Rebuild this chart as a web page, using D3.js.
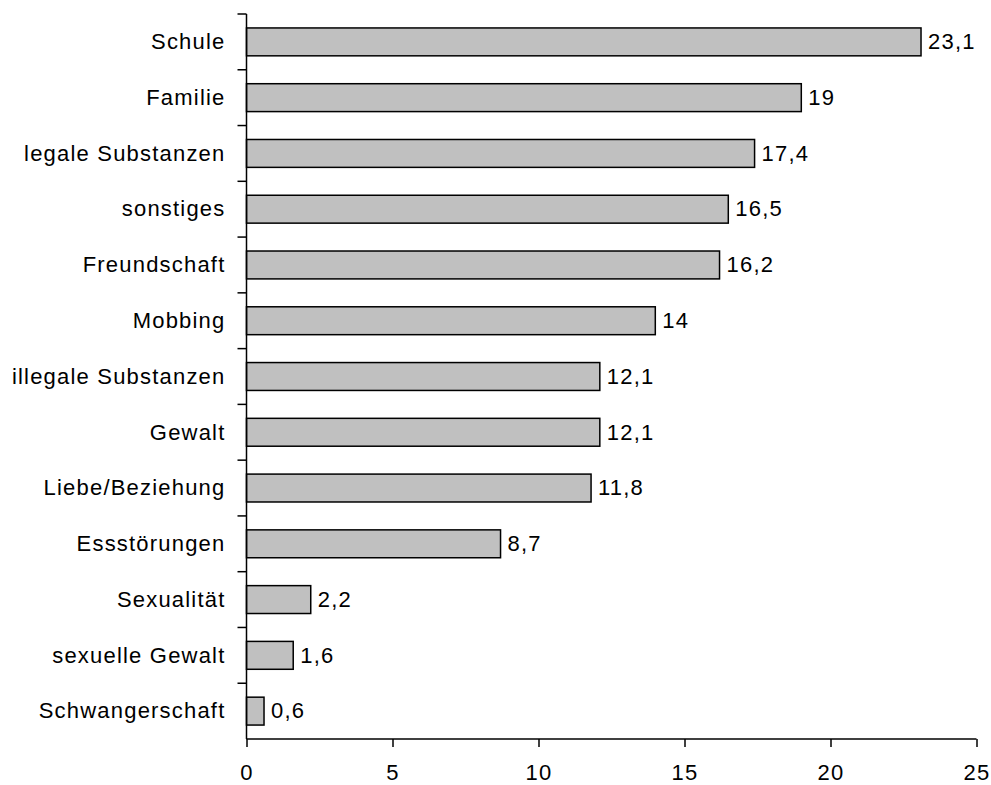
<!DOCTYPE html>
<html>
<head>
<meta charset="utf-8">
<script src="https://cdn.jsdelivr.net/npm/d3@7"></script>
<style>
  html, body { margin: 0; padding: 0; background: #fff; }
  svg { display: block; }
  text { font-family: "Liberation Sans", Arial, sans-serif; fill: #000; letter-spacing: 1.2px; }
</style>
</head>
<body>
<svg id="chart" width="991" height="785"></svg>
<script>
const categories = [
  "Schule", "Familie", "legale Substanzen", "sonstiges", "Freundschaft",
  "Mobbing", "illegale Substanzen", "Gewalt", "Liebe/Beziehung",
  "Essstörungen", "Sexualität", "sexuelle Gewalt", "Schwangerschaft"
];
const values = [23.1, 19, 17.4, 16.5, 16.2, 14, 12.1, 12.1, 11.8, 8.7, 2.2, 1.6, 0.6];
const xTicks = [0, 5, 10, 15, 20, 25];

const svg = d3.select("#chart");
const plotLeft = 246.5, plotRight = 976.5, plotTop = 14, plotBottom = 739;
const fontSize = 22;

const x = d3.scaleLinear().domain([0, 25]).range([plotLeft, plotRight]);
const y = d3.scaleBand().domain(categories).range([plotTop, plotBottom])
  .paddingInner(0.5).paddingOuter(0.25);

const fmt = v => String(v).replace(".", ",");

// bars
svg.append("g").selectAll("rect")
  .data(values)
  .join("rect")
  .attr("x", x(0))
  .attr("y", (d, i) => y(categories[i]))
  .attr("width", d => x(d) - x(0))
  .attr("height", y.bandwidth())
  .attr("fill", "#c0c0c0")
  .attr("stroke", "#000")
  .attr("stroke-width", 1.5);

// value labels
svg.append("g").selectAll("text")
  .data(values)
  .join("text")
  .attr("x", d => x(d) + 7)
  .attr("y", (d, i) => y(categories[i]) + y.bandwidth() / 2)
  .attr("dy", "0.33em")
  .attr("font-size", fontSize)
  .text(d => fmt(d));

// y axis: line with outward ticks at the band boundaries
const yAxis = svg.append("g");
yAxis.append("line")
  .attr("x1", plotLeft).attr("x2", plotLeft)
  .attr("y1", plotTop).attr("y2", plotBottom)
  .attr("stroke", "#000").attr("stroke-width", 1.5);
const step = y.step();
const boundaries = d3.range(categories.length).map(i => plotTop + i * step);
yAxis.selectAll("line.tick")
  .data(boundaries)
  .join("line")
  .attr("class", "tick")
  .attr("x1", plotLeft - 9).attr("x2", plotLeft)
  .attr("y1", d => d).attr("y2", d => d)
  .attr("stroke", "#000").attr("stroke-width", 1.5);
yAxis.selectAll("text")
  .data(categories)
  .join("text")
  .attr("x", plotLeft - 21)
  .attr("y", d => y(d) + y.bandwidth() / 2)
  .attr("dy", "0.33em")
  .attr("text-anchor", "end")
  .attr("font-size", fontSize)
  .text(d => d);

// x axis
const xAxis = svg.append("g")
  .attr("transform", `translate(0,${plotBottom})`)
  .call(d3.axisBottom(x).tickValues(xTicks).tickSize(8).tickPadding(17).tickFormat(d => fmt(d)));
xAxis.select(".domain").attr("stroke-width", 1.5).attr("d", `M${plotLeft},0H${plotRight}`);
xAxis.selectAll(".tick line").attr("stroke-width", 1.5);
xAxis.selectAll(".tick text").attr("font-size", fontSize).attr("font-family", null);
</script>
</body>
</html>
